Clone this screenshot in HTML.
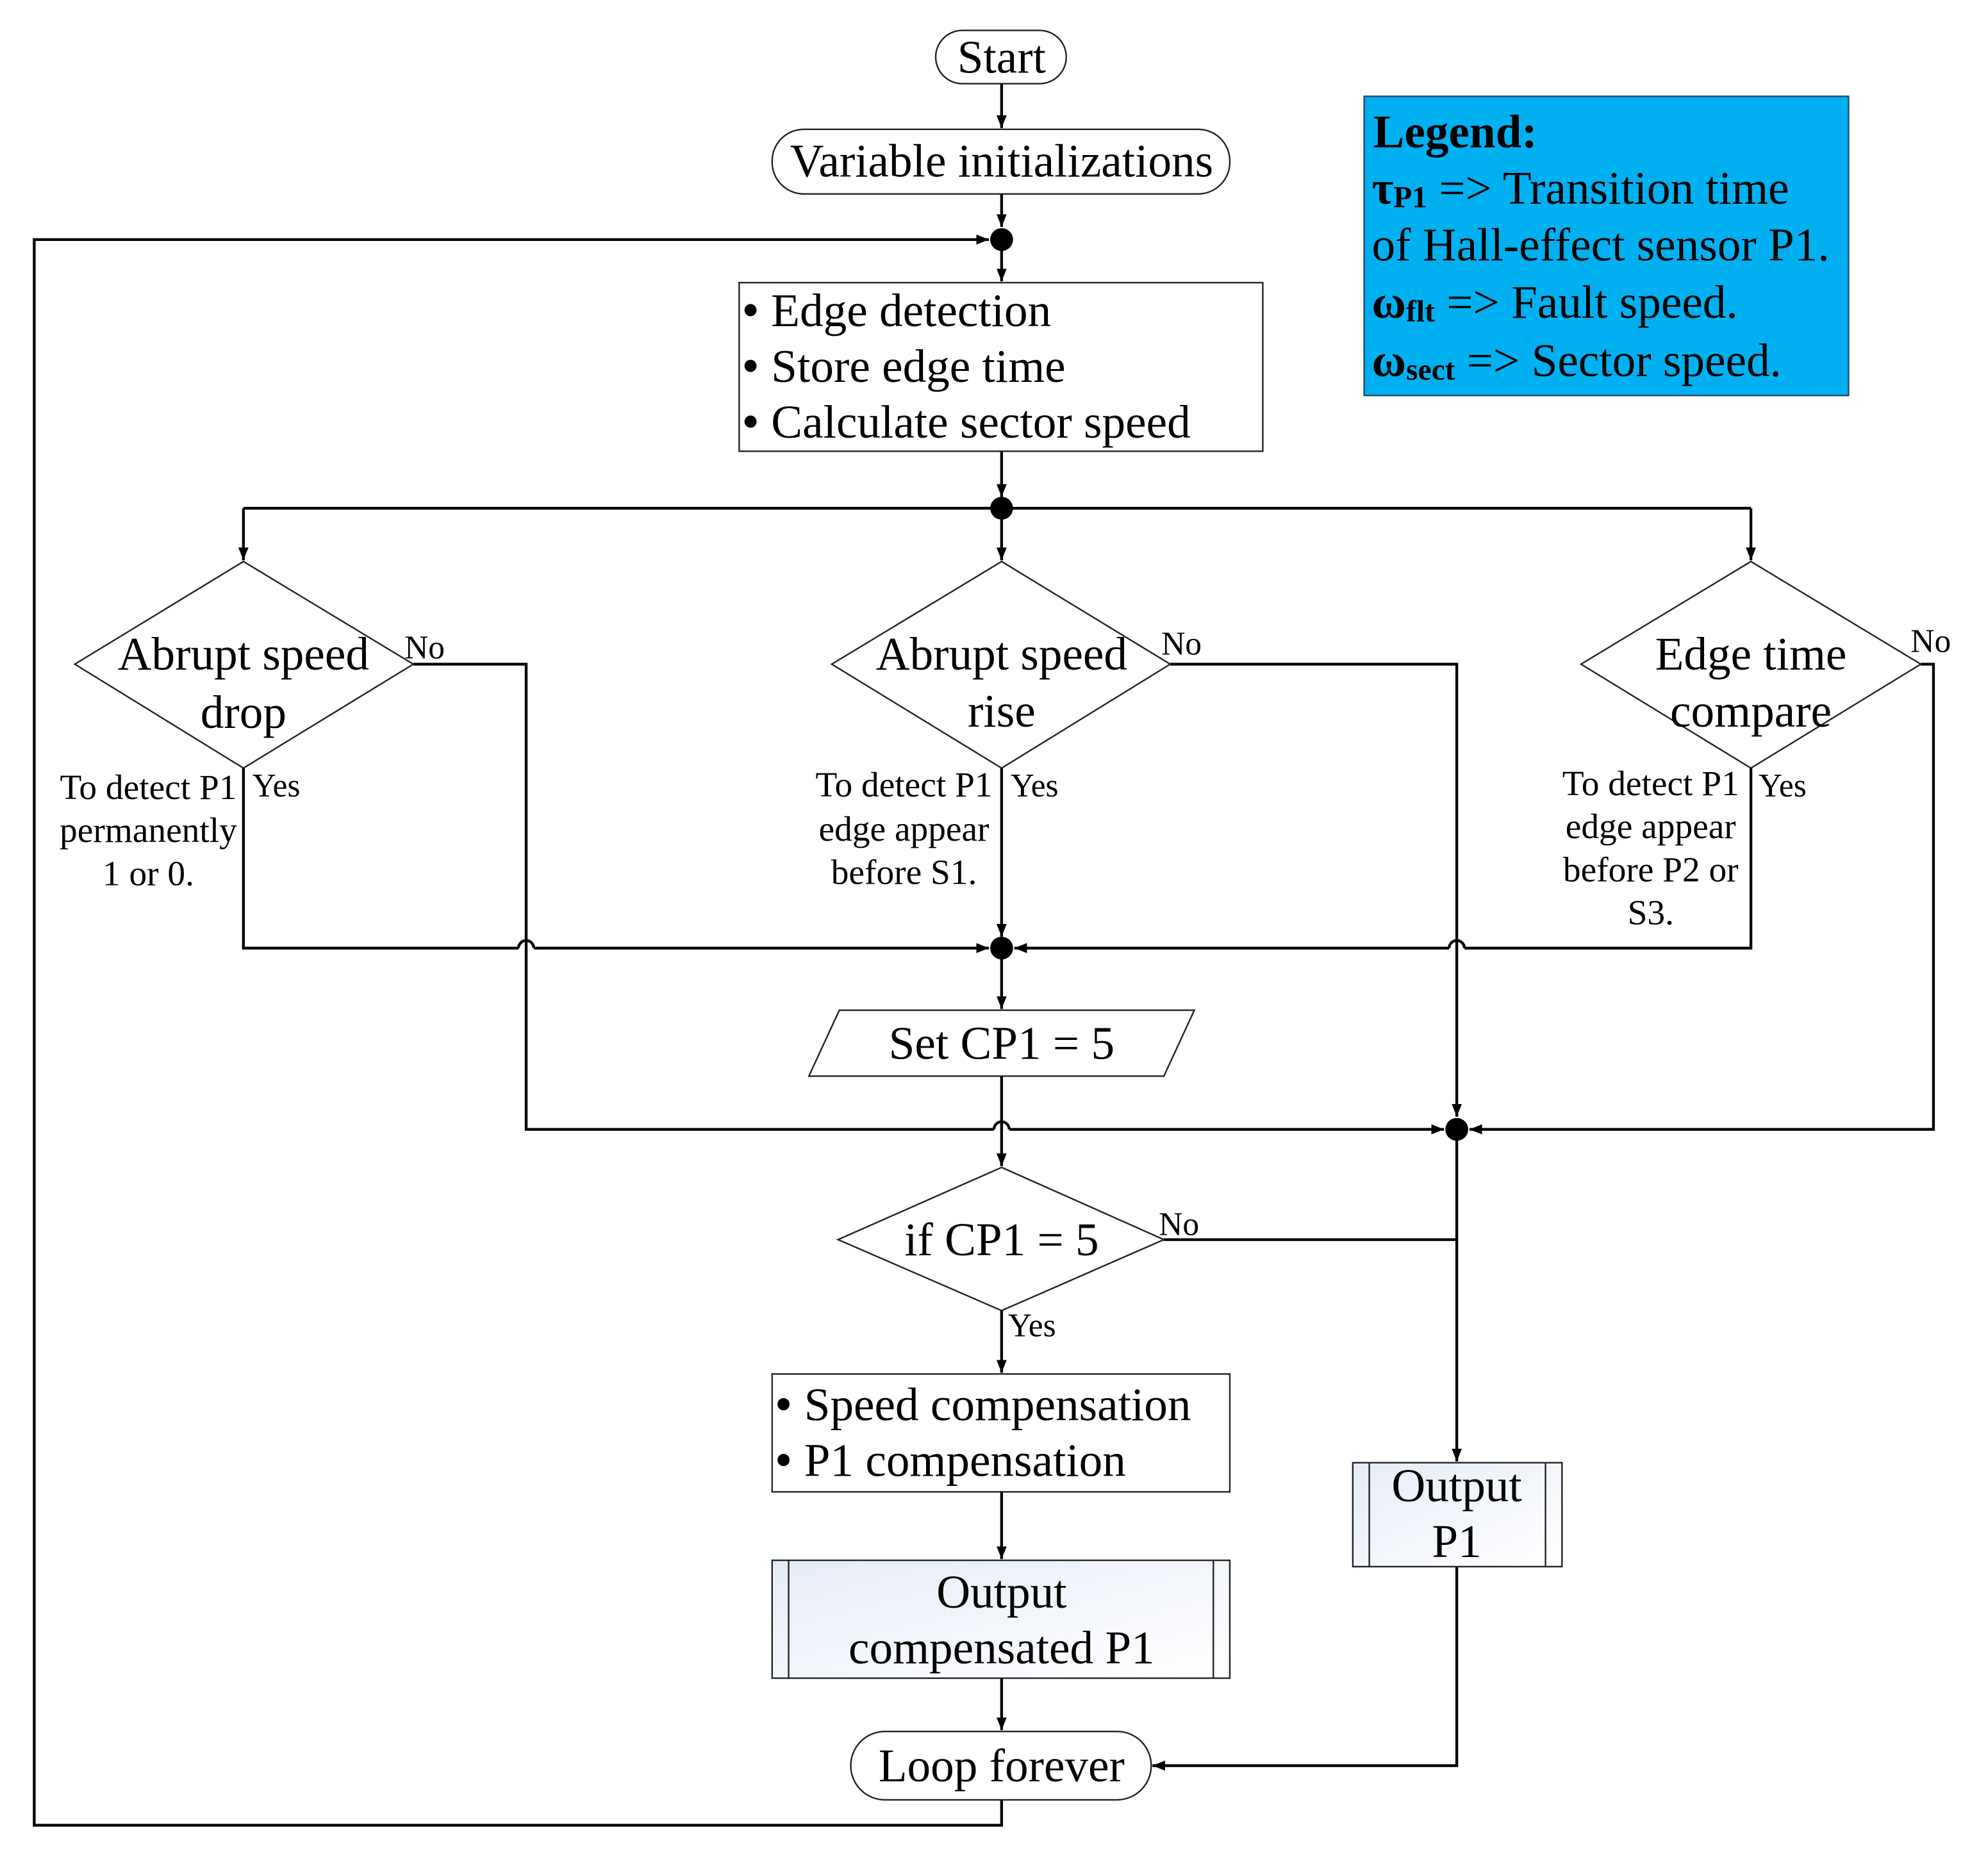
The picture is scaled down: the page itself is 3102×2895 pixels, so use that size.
<!DOCTYPE html>
<html><head><meta charset="utf-8"><style>
html,body{margin:0;padding:0;background:#fff;}
svg{display:block;}
text{font-family:"Liberation Serif",serif;fill:#000;}
</style></head><body>
<svg width="3102" height="2895" viewBox="0 0 1568 1463.5" preserveAspectRatio="none" xmlns="http://www.w3.org/2000/svg">
<defs>
<marker id="a" viewBox="0 0 10 10" refX="10" refY="5" markerWidth="10" markerHeight="10" markerUnits="userSpaceOnUse" orient="auto"><path d="M0,1 L10,5 L0,9 z" fill="#000"/></marker>
<linearGradient id="g" x1="0" y1="0" x2="1" y2="1"><stop offset="0" stop-color="#e6ecf7"/><stop offset="1" stop-color="#ffffff"/></linearGradient>
</defs>
<g fill="none" stroke="#000" stroke-width="2.2">
<line x1="790" y1="66" x2="790" y2="101" marker-end="url(#a)"/>
<line x1="790" y1="153" x2="790" y2="179" marker-end="url(#a)"/>
<line x1="790" y1="189" x2="790" y2="222" marker-end="url(#a)"/>
<line x1="790" y1="356" x2="790" y2="392" marker-end="url(#a)"/>
<polyline points="790,1420 790,1440 27,1440 27,189 780,189" marker-end="url(#a)"/>
<line x1="192" y1="401" x2="1381" y2="401"/>
<line x1="192" y1="401" x2="192" y2="442" marker-end="url(#a)"/>
<line x1="790" y1="401" x2="790" y2="442" marker-end="url(#a)"/>
<line x1="1381" y1="401" x2="1381" y2="442" marker-end="url(#a)"/>
<polyline points="192,606 192,748 409,748"/>
<path d="M409,748 a6,6 0 0 1 12,0"/>
<line x1="421" y1="748" x2="780" y2="748" marker-end="url(#a)"/>
<line x1="790" y1="606" x2="790" y2="739" marker-end="url(#a)"/>
<polyline points="1381,606 1381,748 1155,748"/>
<path d="M1155,748 a6,6 0 0 0 -12,0"/>
<line x1="1143" y1="748" x2="800" y2="748" marker-end="url(#a)"/>
<polyline points="326,524 415,524 415,891 784,891"/>
<path d="M784,891 a6,6 0 0 1 12,0"/>
<line x1="796" y1="891" x2="1139" y2="891" marker-end="url(#a)"/>
<polyline points="923,524 1149,524 1149,881" marker-end="url(#a)"/>
<polyline points="1515,524 1525,524 1525,891 1159,891" marker-end="url(#a)"/>
<line x1="790" y1="748" x2="790" y2="796" marker-end="url(#a)"/>
<line x1="790" y1="849" x2="790" y2="920" marker-end="url(#a)"/>
<polyline points="918,978 1149,978"/>
<line x1="1149" y1="891" x2="1149" y2="1153" marker-end="url(#a)"/>
<line x1="790" y1="1034" x2="790" y2="1083" marker-end="url(#a)"/>
<line x1="790" y1="1177" x2="790" y2="1230" marker-end="url(#a)"/>
<line x1="790" y1="1324" x2="790" y2="1365" marker-end="url(#a)"/>
<polyline points="1149,1236 1149,1393 909,1393" marker-end="url(#a)"/>
</g>
<g fill="#000"><circle cx="790" cy="189" r="9"/><circle cx="790" cy="401" r="9"/><circle cx="790" cy="748" r="9"/><circle cx="1149" cy="891" r="9"/></g>
<g stroke="#222" stroke-width="1.2" fill="#fff">
<rect x="738" y="24" width="103" height="42" rx="21"/>
<rect x="609" y="102" width="361" height="51" rx="25"/>
<rect x="583" y="223" width="413" height="133"/>
<polygon points="192,443 326,524 192,606 59,524"/>
<polygon points="790,443 923,524 790,606 656,524"/>
<polygon points="1381,443 1515,524 1381,606 1247,524"/>
<polygon points="662,797 942,797 918,849 638,849"/>
<polygon points="790,921 918,978 790,1034 661,978"/>
<rect x="609" y="1084" width="361" height="93"/>
<rect x="609" y="1231" width="361" height="93" fill="url(#g)"/>
<line x1="622" y1="1231" x2="622" y2="1324"/><line x1="957" y1="1231" x2="957" y2="1324"/>
<rect x="1067" y="1154" width="165" height="82" fill="url(#g)"/>
<line x1="1080" y1="1154" x2="1080" y2="1236"/><line x1="1219" y1="1154" x2="1219" y2="1236"/>
<rect x="671" y="1366" width="237" height="54" rx="27"/>
<rect x="1076" y="76" width="382" height="236" fill="#00b0f0" stroke="#1a4a70"/>
</g>
<g font-size="37" text-anchor="middle" dominant-baseline="central">
<text x="790" y="45">Start</text>
<text x="790" y="127">Variable initializations</text>
<text x="192" y="516">Abrupt speed</text><text x="192" y="562">drop</text>
<text x="790" y="516">Abrupt speed</text><text x="790" y="561">rise</text>
<text x="1381" y="516">Edge time</text><text x="1381" y="561">compare</text>
<text x="790" y="823">Set CP1 = 5</text>
<text x="790" y="978">if CP1 = 5</text>
<text x="790" y="1256">Output</text><text x="790" y="1300">compensated P1</text>
<text x="1149" y="1172">Output</text><text x="1149" y="1216">P1</text>
<text x="790" y="1393">Loop forever</text>
</g>
<g font-size="37" dominant-baseline="central">
<text x="585" y="245"><tspan font-size="40">•</tspan> Edge detection</text>
<text x="585" y="289"><tspan font-size="40">•</tspan> Store edge time</text>
<text x="585" y="333"><tspan font-size="40">•</tspan> Calculate sector speed</text>
<text x="611" y="1108"><tspan font-size="40">•</tspan> Speed compensation</text>
<text x="611" y="1152"><tspan font-size="40">•</tspan> P1 compensation</text>
</g>
<g font-size="26" dominant-baseline="central">
<text x="319" y="511">No</text><text x="916" y="508">No</text><text x="1507" y="506">No</text><text x="914" y="966">No</text>
<text x="199" y="620">Yes</text><text x="797" y="620">Yes</text><text x="1387" y="620">Yes</text><text x="795" y="1046">Yes</text>
</g>
<g font-size="28" text-anchor="middle" dominant-baseline="central">
<text x="117" y="621">To detect P1</text><text x="117" y="655">permanently</text><text x="117" y="689">1 or 0.</text>
<text x="713" y="619">To detect P1</text><text x="713" y="654">edge appear</text><text x="713" y="688">before S1.</text>
<text x="1302" y="618">To detect P1</text><text x="1302" y="652">edge appear</text><text x="1302" y="686">before P2 or</text><text x="1302" y="720">S3.</text>
</g>
<g font-size="37" dominant-baseline="central">
<text x="1083" y="104" font-weight="bold">Legend:</text>
<text x="1082" y="148"><tspan font-weight="bold">τ</tspan><tspan font-weight="bold" font-size="24" dy="8">P1</tspan><tspan dy="-8"> =&gt; Transition time</tspan></text>
<text x="1082" y="193">of Hall-effect sensor P1.</text>
<text x="1082" y="238"><tspan font-weight="bold">ω</tspan><tspan font-weight="bold" font-size="24" dy="8">flt</tspan><tspan dy="-8"> =&gt; Fault speed.</tspan></text>
<text x="1082" y="284"><tspan font-weight="bold">ω</tspan><tspan font-weight="bold" font-size="24" dy="8">sect</tspan><tspan dy="-8"> =&gt; Sector speed.</tspan></text>
</g>
</svg>
</body></html>
